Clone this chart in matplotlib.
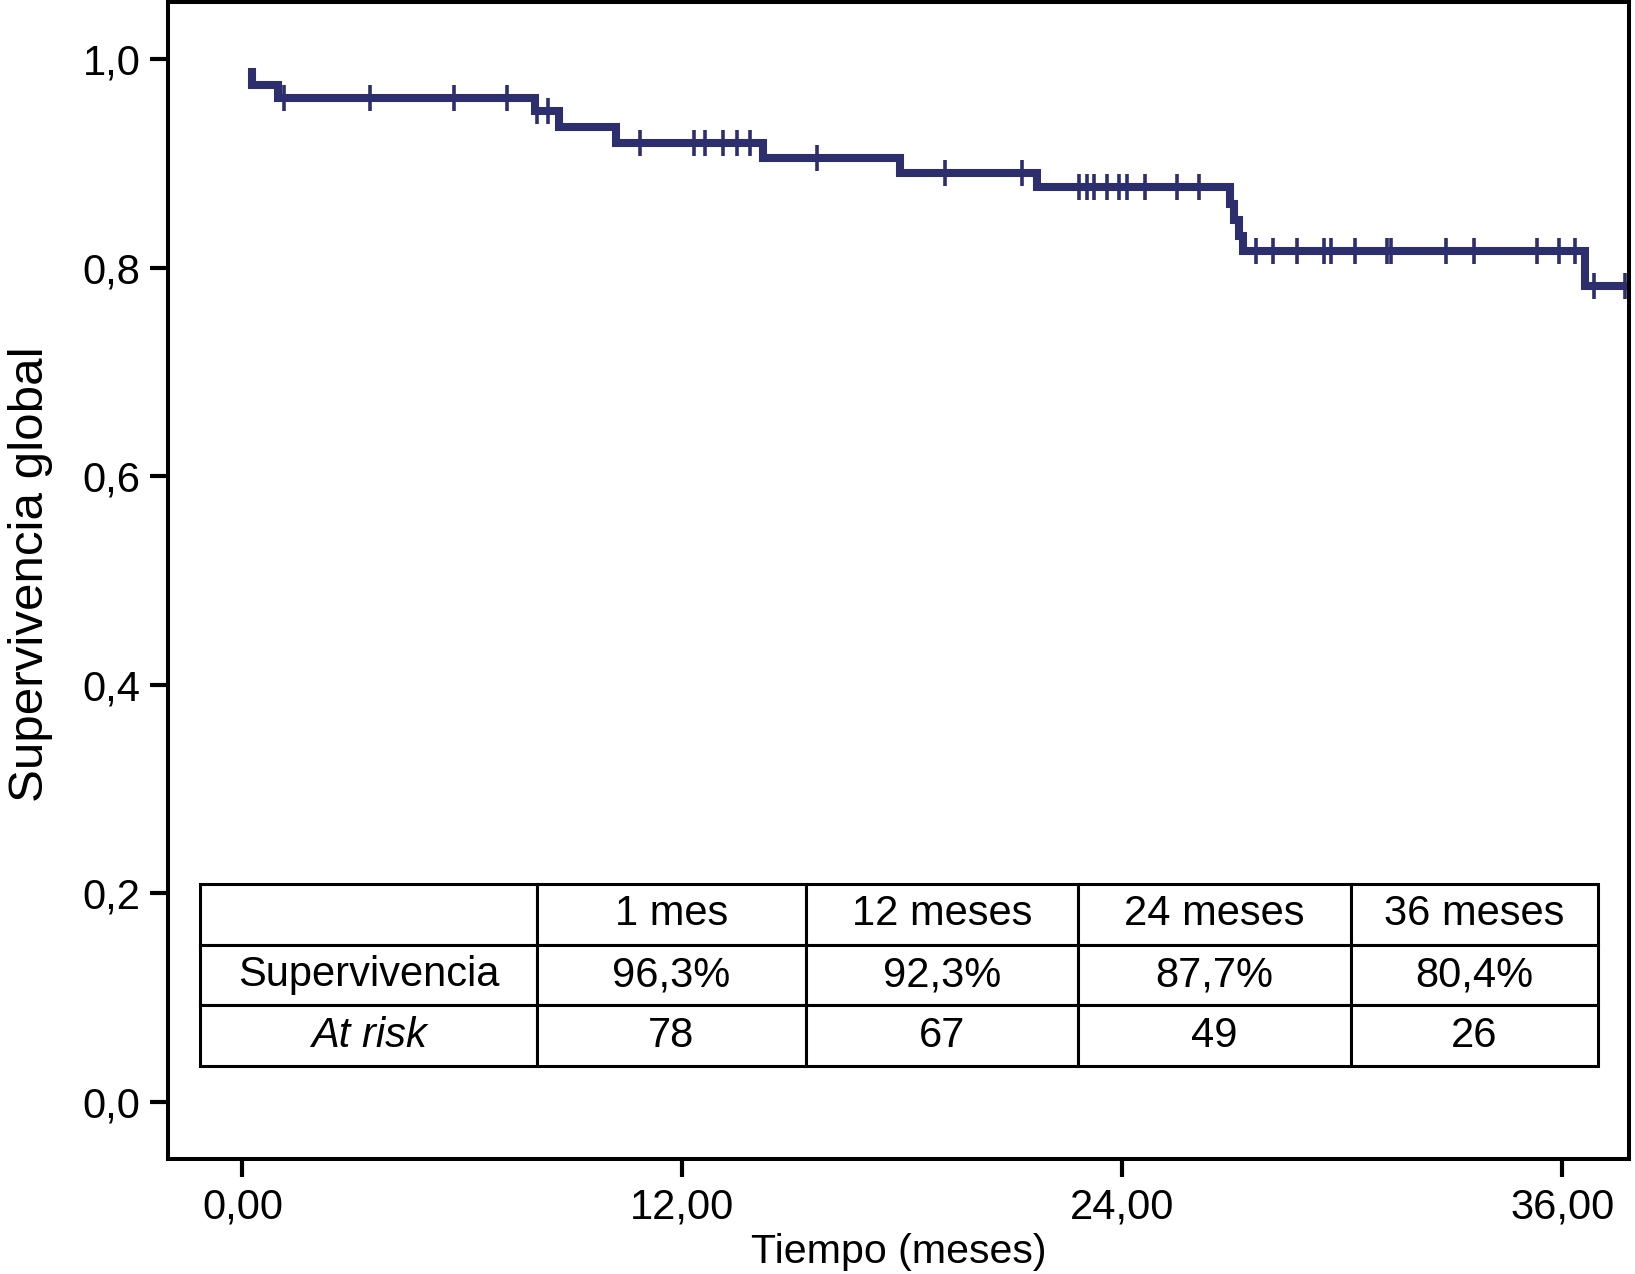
import numpy as np
import matplotlib
matplotlib.use("Agg")
import matplotlib.pyplot as plt

plt.rcParams["font.family"] = ["Liberation Sans", "DejaVu Sans"]

# Kaplan-Meier steps (time in months, survival after the step)
step_times = [0.26, 0.26, 0.97, 7.98, 8.64, 10.19, 14.19, 17.93, 21.66,
              26.93, 27.05, 27.17, 27.28, 36.62, 37.8]
step_surv = [0.9875, 0.9757, 0.9625, 0.9505, 0.935, 0.9195, 0.905, 0.8915, 0.8775,
             0.861, 0.846, 0.831, 0.8167, 0.7825, 0.7825]

# censored observations
censor_times = [1.14, 3.48, 5.76, 7.21, 8.03, 8.32, 10.83, 12.32, 12.61, 13.12,
                13.49, 13.85, 15.66, 19.15, 21.26, 22.82, 23.03, 23.24, 23.57,
                23.92, 24.13, 24.62, 25.48, 26.10, 27.64, 28.12, 28.77, 29.51,
                29.68, 30.35, 31.23, 31.32, 32.82, 33.60, 35.30, 35.91, 36.36,
                36.88, 37.71]

x_ticks = [0, 12, 24, 36]
x_tick_labels = ["0,00", "12,00", "24,00", "36,00"]
y_ticks = [0.0, 0.2, 0.4, 0.6, 0.8, 1.0]
y_tick_labels = ["0,0", "0,2", "0,4", "0,6", "0,8", "1,0"]

table_header = ["", "1 mes", "12 meses", "24 meses", "36 meses"]
table_surv = ["Supervivencia", "96,3%", "92,3%", "87,7%", "80,4%"]
table_risk = ["At risk", "78", "67", "49", "26"]

LINE_COLOR = "#2d2e6e"


def surv_at(t):
    idx = np.searchsorted(step_times, t, side="right") - 1
    return step_surv[max(idx, 0)]


def main():
    fig = plt.figure(figsize=(16.35, 12.74), dpi=100)
    ax = fig.add_axes([0.1028, 0.09, 0.8935, 0.9088])

    ax.step(step_times, step_surv, where="post", color=LINE_COLOR,
            linewidth=5.8, solid_joinstyle="miter")
    censor_surv = [surv_at(t) for t in censor_times]
    ax.plot(censor_times, censor_surv, linestyle="none", marker="|",
            markersize=19, markeredgewidth=2.6, color=LINE_COLOR)

    ax.set_xlim(-2.03, 37.82)
    ax.set_ylim(-0.055, 1.0555)
    ax.set_xticks(x_ticks)
    ax.set_xticklabels(x_tick_labels)
    ax.set_yticks(y_ticks)
    ax.set_yticklabels(y_tick_labels)

    for spine in ax.spines.values():
        spine.set_linewidth(2.9)
    ax.tick_params(axis="both", direction="out", length=13, width=3,
                   labelsize=30, pad=7)

    ax.set_xlabel("Tiempo (meses)", fontsize=29.6)
    ax.xaxis.set_label_coords(0.5, -0.064)
    ax.set_ylabel("Supervivencia global", fontsize=35.5)
    ax.yaxis.set_label_coords(-0.079, 0.505)

    col_px = [337, 269, 272, 273, 247.5]
    total = sum(col_px)
    tbl = ax.table(
        cellText=[table_surv, table_risk],
        colLabels=table_header,
        colWidths=[c / total for c in col_px],
        cellLoc="center",
        bbox=[0.0219, 0.0806, 0.957, 0.1572],
    )
    tbl.auto_set_font_size(False)
    for (row, col), cell in tbl.get_celld().items():
        cell.set_linewidth(2.2)
        cell.set_edgecolor("black")
        cell.get_text().set_fontsize(30)
        if row == 2 and col == 0:
            cell.get_text().set_fontstyle("italic")

    fig.savefig("out.png", dpi=100)


if __name__ == "__main__":
    main()
